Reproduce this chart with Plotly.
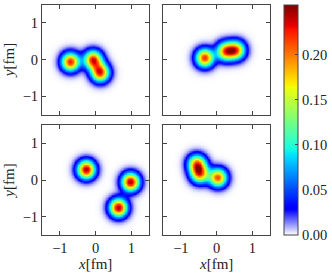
import numpy as np
import plotly.graph_objects as go

# ---- data: hot-spot positions (fm) and peak strengths per panel ----
tl_x = [-0.71, -0.08, 0.12]
tl_y = [-0.06, 0.00, -0.35]
tl_amp = [0.225, 0.225, 0.225]

tr_x = [-0.34, 0.24, 0.54]
tr_y = [0.05, 0.23, 0.26]
tr_amp = [0.22, 0.195, 0.195]

bl_x = [-0.27, 0.97, 0.63]
bl_y = [0.29, -0.05, -0.75]
bl_amp = [0.245, 0.245, 0.245]

br_x = [-0.56, -0.48, 0.03]
br_y = [0.45, 0.17, 0.07]
br_amp = [0.19, 0.19, 0.21]

hotspot_width = 0.17  # fm
axis_ticks = [-1, 0, 1]
cbar_ticks = [0.0, 0.05, 0.10, 0.15, 0.20]
cbar_ticktext = ["0.00", "0.05", "0.10", "0.15", "0.20"]
z_max = 0.255

# ---- colour scale: jet with the low end fading to white ----
def jet(t):
    def seg(pts, t):
        xs = [p[0] for p in pts]; ys = [p[1] for p in pts]
        return float(np.interp(t, xs, ys))
    r = seg([(0, 0), (0.35, 0), (0.66, 1), (0.89, 1), (1, 0.5)], t)
    g = seg([(0, 0), (0.125, 0), (0.375, 1), (0.64, 1), (0.91, 0), (1, 0)], t)
    b = seg([(0, 0.5), (0.11, 1), (0.34, 1), (0.65, 0), (1, 0)], t)
    return r, g, b

scale = []
for t in np.linspace(0, 1, 101):
    if t < 0.11:
        f = t / 0.11
        r, g, b = 1 - f, 1 - f, 1.0
    else:
        r, g, b = jet(t)
    scale.append([float(t), f"rgb({int(round(r*255))},{int(round(g*255))},{int(round(b*255))})"])

grid = np.linspace(-1.5, 1.5, 181)
GX, GY = np.meshgrid(grid, grid)

def density(xs, ys, amps):
    Z = np.zeros_like(GX)
    for x0, y0, a in zip(xs, ys, amps):
        Z += a * np.exp(-((GX - x0) ** 2 + (GY - y0) ** 2) / (2 * hotspot_width ** 2))
    return Z

panels = [
    (tl_x, tl_y, tl_amp, "x", "y"),
    (tr_x, tr_y, tr_amp, "x2", "y2"),
    (bl_x, bl_y, bl_amp, "x3", "y3"),
    (br_x, br_y, br_amp, "x4", "y4"),
]

fig = go.Figure()
for xs, ys, amps, xa, ya in panels:
    fig.add_trace(go.Heatmap(x=grid, y=grid, z=density(xs, ys, amps),
                             coloraxis="coloraxis", zsmooth="best",
                             xaxis=xa, yaxis=ya, hoverinfo="skip"))

W, H = 332, 274
font = dict(family="Liberation Serif, DejaVu Serif, serif", size=14.5, color="#222")
common = dict(range=[-1.5, 1.5], tickvals=axis_ticks, ticks="inside", ticklen=4,
              tickwidth=1, tickcolor="#444", showline=True, mirror="ticks",
              linecolor="#444", linewidth=1, showgrid=False, zeroline=False,
              tickfont=font, fixedrange=True)

xd = {"L": [43 / W, 153 / W], "R": [167 / W, 277 / W]}
yd = {"T": [(H - 114.5) / H, (H - 4.5) / H], "B": [(H - 235) / H, (H - 125) / H]}

lay = dict()
specs = [("", "L", "T", False, True), ("2", "R", "T", False, False),
         ("3", "L", "B", True, True), ("4", "R", "B", True, False)]
for s, xk, yk, show_x, show_y in specs:
    xax = dict(common, domain=xd[xk], anchor="y" + s, showticklabels=show_x)
    yax = dict(common, domain=yd[yk], anchor="x" + s, showticklabels=show_y)
    if show_x:
        xax["title"] = dict(text="<i>x</i>[fm]", font=dict(font, size=15), standoff=0)
    if show_y:
        yax["title"] = dict(text="<i>y</i>[fm]", font=dict(font, size=15), standoff=4)
    lay["xaxis" + s] = xax
    lay["yaxis" + s] = yax

fig.update_layout(
    width=W, height=H, autosize=False,
    margin=dict(l=0, r=0, t=0, b=0),
    paper_bgcolor="white", plot_bgcolor="white",
    font=font, showlegend=False,
    coloraxis=dict(
        cmin=0, cmax=z_max, colorscale=scale,
        colorbar=dict(
            x=291.5 / W, xanchor="left", y=(H - 5) / H, yanchor="top",
            len=230, lenmode="pixels", thickness=14, thicknessmode="pixels",
            outlinewidth=1, outlinecolor="#444", xpad=0, ypad=0,
            tickvals=cbar_ticks, ticktext=cbar_ticktext, ticks="inside",
            ticklen=3, tickcolor="#444", tickfont=font,
        ),
    ),
    **lay,
)

fig.write_html("out.html", config={"displayModeBar": False},
               post_script="document.body.style.margin='0';")
